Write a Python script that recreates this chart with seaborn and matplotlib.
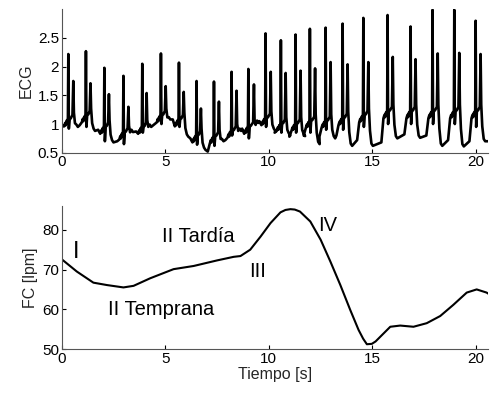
import numpy as np
import pandas as pd
import matplotlib
matplotlib.use("Agg")
import matplotlib.pyplot as plt
import seaborn as sns

# ---------------------------------------------------------------------
# ECG beats (one entry per heartbeat)
# ---------------------------------------------------------------------
r_time = [0.32, 1.17, 2.06, 2.98, 3.89, 4.79, 5.66, 6.51, 7.35, 8.20, 9.01, 9.84,
          10.58, 11.29, 11.98, 12.74, 13.56, 14.56, 15.73, 16.84, 17.90, 18.95, 19.98]
r_peak = [2.22, 2.27, 1.98, 1.84, 2.05, 2.23, 2.07, 1.75, 1.74, 1.91, 1.96, 2.58,
          2.46, 2.56, 2.66, 2.68, 2.75, 2.85, 2.90, 2.70, 2.99, 2.99, 2.80]
t_time = [0.56, 1.39, 2.28, 3.22, 4.10, 5.02, 5.89, 6.72, 7.59, 8.44, 9.28, 10.09,
          10.81, 11.53, 12.23, 12.98, 13.80, 14.80, 15.98, 17.08, 18.15, 19.19, 20.22]
t_peak = [1.75, 1.71, 1.52, 1.30, 1.54, 1.66, 1.56, 1.27, 1.39, 1.58, 1.69, 1.91,
          1.89, 1.93, 1.97, 2.08, 2.04, 2.08, 2.17, 2.13, 2.23, 2.24, 2.22]
pre_level = [1.08, 1.15, 0.95, 0.85, 0.95, 1.15, 1.08, 0.80, 0.78, 0.88, 0.95, 1.10,
             1.00, 1.00, 1.05, 1.05, 1.10, 1.15, 1.22, 1.22, 1.22, 1.22, 1.22]
s_level = [0.92, 0.95, 0.70, 0.65, 0.85, 1.00, 0.95, 0.64, 0.62, 0.80, 0.75, 0.95,
           0.85, 0.85, 0.85, 0.90, 0.90, 0.95, 1.00, 1.00, 1.00, 1.00, 0.95]
trough = [0.95, 0.88, 0.68, 0.86, 0.95, 1.08, 0.78, 0.55, 0.70, 0.88, 1.02, 0.88,
          0.80, 0.79, 0.65, 0.75, 0.62, 0.62, 0.75, 0.76, 0.62, 0.61, 0.70]
rest = [0.98, 0.90, 0.70, 0.87, 1.00, 1.08, 0.75, 0.52, 0.72, 0.92, 1.05, 0.85,
        0.78, 0.80, 0.78, 0.80, 0.72, 0.68, 0.82, 0.80, 0.72, 0.70, 0.68]
ecg_start = 0.96
ecg_end = 0.70

# ---------------------------------------------------------------------
# Heart rate curve (FC)
# ---------------------------------------------------------------------
fc_time = [0.0, 0.73, 1.53, 2.18, 2.98, 3.47, 4.27, 5.4, 6.37, 7.5, 8.3, 8.63,
           9.1, 9.6, 10.08, 10.56, 10.8, 11.04, 11.25, 11.5, 12.0, 12.5, 12.97,
           13.45, 13.93, 14.33, 14.55, 14.73, 14.97, 15.15, 15.38, 15.86, 16.34,
           16.98, 17.62, 18.27, 18.9, 19.55, 20.03, 20.51, 20.6]
fc_value = [72.6, 69.5, 66.7, 66.1, 65.5, 65.9, 67.8, 70.1, 70.9, 72.3, 73.2, 73.4,
            75.0, 78.3, 81.7, 84.4, 85.0, 85.2, 85.1, 84.6, 82.1, 77.5, 72.0,
            66.1, 59.8, 54.8, 52.6, 51.2, 51.3, 51.9, 53.1, 55.6, 55.9,
            55.6, 56.5, 58.3, 61.1, 64.2, 65.0, 64.2, 63.9]

phase_labels = ["I", "II Tardía", "II Temprana", "III", "IV"]
phase_x = [0.68, 6.6, 4.8, 9.46, 12.85]
phase_y = [74.4, 78.2, 60.0, 69.6, 81.2]
phase_size = [17, 14.5, 14.5, 14.5, 14.5]


def build_ecg():
    xs, ys = [0.0], [ecg_start]
    for i in range(len(r_time)):
        r, t = r_time[i], t_time[i]
        p, tr = pre_level[i], trough[i]
        prev = rest[i - 1] if i > 0 else ecg_start
        # slow rise with small ripples, sharp R spike, second spike, decay
        xs += [r - 0.30, r - 0.20, r - 0.15, r - 0.12, r - 0.08, r - 0.05, r - 0.02,
               r, r + 0.025, r + 0.06, r + 0.12, t - 0.04,
               t, t + 0.03, t + 0.08, t + 0.15, t + 0.22]
        ys += [prev, p - 0.12, p - 0.06, p - 0.10, p - 0.02, p - 0.07, p + 0.03,
               r_peak[i], s_level[i], p, p + 0.02, p + 0.08,
               t_peak[i], p + 0.12, (p + tr) / 2, tr + 0.04, tr]
    xs.append(20.6)
    ys.append(ecg_end)
    return pd.DataFrame({"t": xs, "ecg": ys})


sns.set_theme(style="ticks")
plt.rcParams["font.family"] = ["Liberation Sans", "DejaVu Sans"]

fig = plt.figure(figsize=(4.9, 3.94), dpi=100)
ax1 = fig.add_axes([0.1259, 0.6124, 0.871, 0.364])
ax2 = fig.add_axes([0.1259, 0.1142, 0.871, 0.3630])

ecg_df = build_ecg()
sns.lineplot(data=ecg_df, x="t", y="ecg", sort=False, estimator=None,
             color="black", linewidth=1.9, ax=ax1)
ax1.set_xlim(0, 20.6)
ax1.set_ylim(0.5, 3.0)
ax1.set_xticks([0, 5, 10, 15, 20])
ax1.set_yticks([0.5, 1, 1.5, 2, 2.5])
ax1.set_yticklabels(["0.5", "1", "1.5", "2", "2.5"])
ax1.set_xlabel("")
ax1.set_ylabel("ECG", fontsize=11.5, labelpad=3)

fc_df = pd.DataFrame({"t": fc_time, "fc": fc_value})
sns.lineplot(data=fc_df, x="t", y="fc", sort=False, estimator=None,
             color="black", linewidth=1.5, ax=ax2)
ax2.set_xlim(0, 20.6)
ax2.set_ylim(50, 86)
ax2.set_xticks([0, 5, 10, 15, 20])
ax2.set_yticks([50, 60, 70, 80])
ax2.set_xlabel("Tiempo [s]", fontsize=11.5, labelpad=1)
ax2.set_ylabel("FC [lpm]", fontsize=11.5, labelpad=3)

for lab, x, y, s in zip(phase_labels, phase_x, phase_y, phase_size):
    ax2.text(x, y, lab, fontsize=s, ha="center", va="center", color="black")

for ax in (ax1, ax2):
    sns.despine(ax=ax)
    ax.tick_params(direction="in", length=3, labelsize=11,
                   colors="black", width=0.8)
    ax.tick_params(axis="x", pad=2)
    ax.tick_params(axis="y", pad=2)
    for sp in ("left", "bottom"):
        ax.spines[sp].set_color("#555555")
        ax.spines[sp].set_linewidth(0.8)
    ax.set_facecolor("white")

fig.savefig("out.png", dpi=100, facecolor="white")
